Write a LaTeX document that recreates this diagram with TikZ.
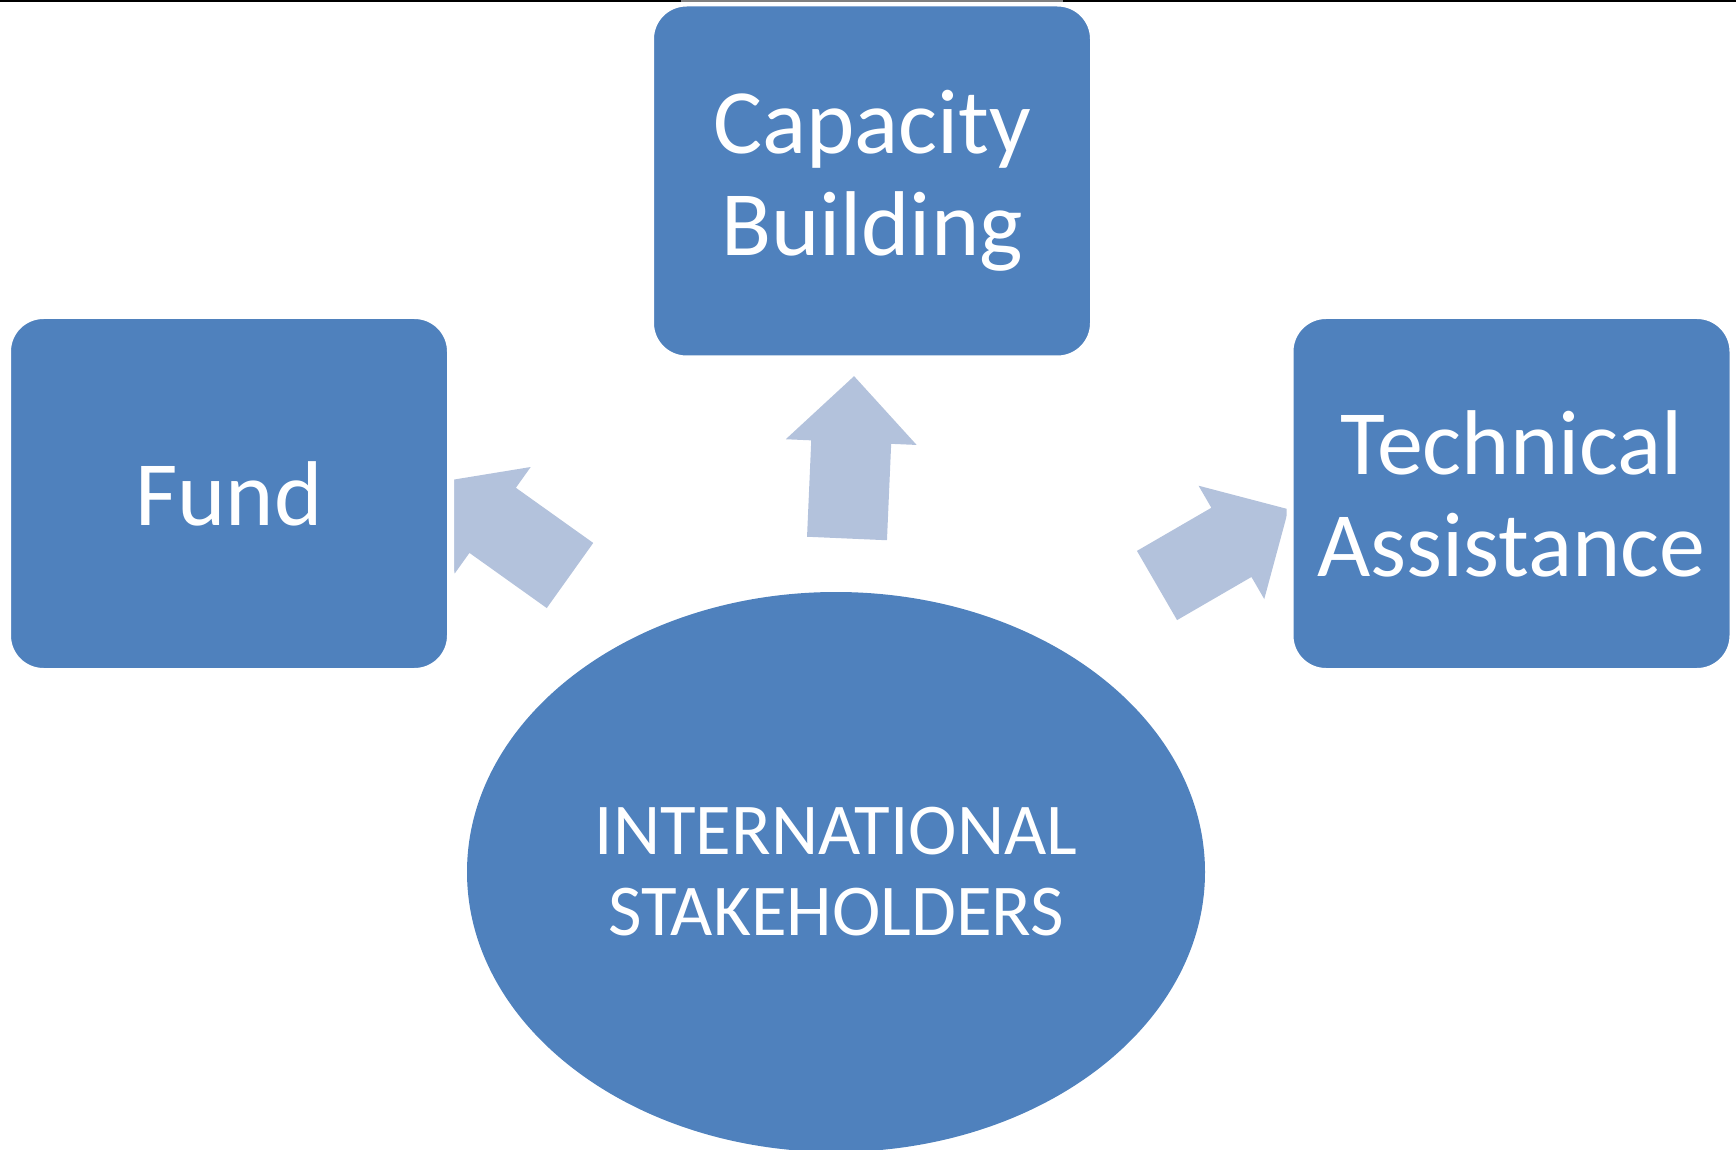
\documentclass[tikz,border=0pt]{standalone}
\usepackage{fontspec}
\setmainfont{Carlito}
\definecolor{boxblue}{RGB}{79,129,189}
\definecolor{arrowblue}{RGB}{179,194,220}
\usetikzlibrary{shapes.geometric, positioning}
\tikzset{
    block/.style={rectangle, rounded corners=18pt, minimum width=221.5pt, minimum height=178pt, align=center, draw=white, line width=3.5pt, fill=boxblue, text=white, font=\fontsize{46}{51}\selectfont},
    hub/.style={ellipse, minimum width=369pt, minimum height=280pt, inner sep=0pt, align=center, fill=boxblue, text=white, font=\fontsize{36.5}{40.5}\selectfont},
    flow/.style={fill=arrowblue}
}
% block arrow: tail point, angle, length
\newcommand{\flowarrow}[3]{%
    \fill[flow, shift={(#1)}, rotate=#2] (0,-40) -- ({#3-66},-40) -- ({#3-66},-65.5) -- (#3,0) -- ({#3-66},65.5) -- ({#3-66},40) -- (0,40) -- cycle;}

\begin{document}
\begin{tikzpicture}[x=0.5pt, y=0.5pt]
    \useasboundingbox (0,0) rectangle (1736,-1150);

    % Arrows out of the centre
    \coordinate (tailfund) at (570,-575.5);
    \coordinate (tailcap) at (847,-538.5);
    \coordinate (tailtech) at (1157,-585.5);
    \flowarrow{tailfund}{144.5}{161}
    \flowarrow{tailcap}{87.5}{162.5}
    \flowarrow{tailtech}{30.1}{152}

    % Boxes
    \node[block] (fund) at (229,-493.5) {Fund};
    \node[block] (capacity) at (872,-181) {Capacity\\Building};
    \node[block] (technical) at (1511.5,-493.5) {Technical\\Assistance};

    % Centre
    \node[hub] (stakeholders) at (836,-872) {INTERNATIONAL\\STAKEHOLDERS};

    % Top rule
    \fill[black] (0,0) rectangle (1736,-2.5);
    \fill[gray] (681,0) rectangle (1063,-2.5);
\end{tikzpicture}
\end{document}
